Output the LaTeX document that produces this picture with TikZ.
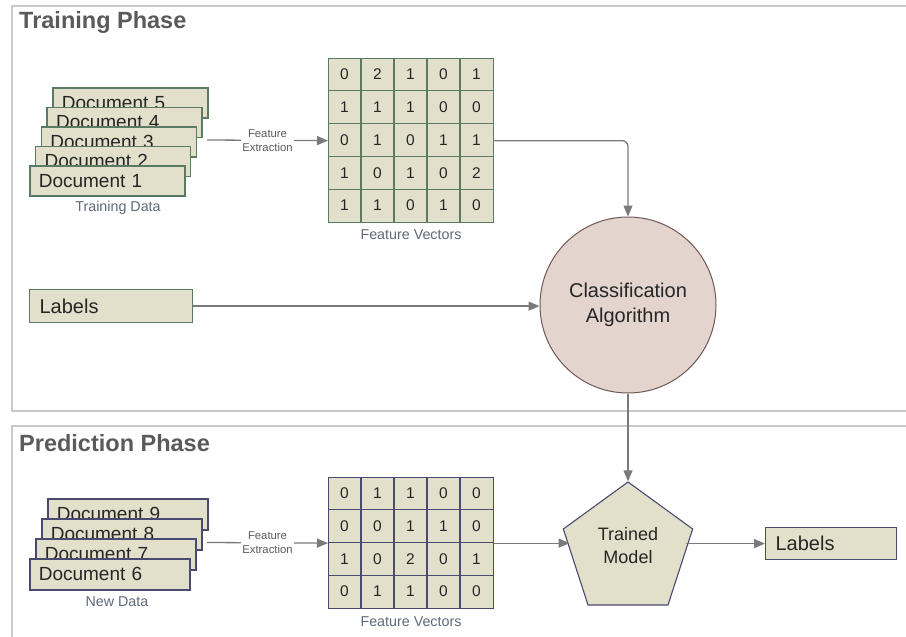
\documentclass[tikz,border=0pt]{standalone}
\usepackage{fontspec}
\setmainfont{Liberation Sans}
\usetikzlibrary{arrows.meta,shapes.geometric}

\definecolor{docfill}{HTML}{E2DFCB}
\definecolor{trainedge}{HTML}{5B7A63}
\definecolor{prededge}{HTML}{4A4A70}
\definecolor{algofill}{HTML}{E3D5CE}
\definecolor{algoedge}{HTML}{715858}
\definecolor{flowgray}{HTML}{7A7A7A}
\definecolor{framegray}{HTML}{C9C9C9}
\definecolor{titlegray}{HTML}{5A5A5A}
\definecolor{capgray}{HTML}{5E6878}
\definecolor{ink}{HTML}{262626}

\tikzset{
  docbox/.style={draw=#1, fill=docfill, line width=1.6pt, anchor=north west,
    minimum height=30pt, inner xsep=9pt, inner ysep=0pt, align=left,
    text=ink, font=\fontsize{19}{22}\selectfont},
  labelbox/.style={draw=#1, fill=docfill, line width=1.2pt, anchor=north west,
    inner xsep=10pt, inner ysep=0pt, align=left,
    text=ink, font=\fontsize{20}{24}\selectfont},
  fvgrid/.style={draw=#1, fill=docfill, line width=1.3pt, anchor=north west,
    inner sep=0pt},
  gridline/.style={draw=#1, line width=1.3pt},
  cellnum/.style={text=ink, font=\fontsize{15.5}{18}\selectfont, inner sep=0pt},
  captext/.style={text=capgray, font=\fontsize{14.3}{17}\selectfont, inner sep=0pt},
  steplabel/.style={fill=white, inner xsep=1.5pt, inner ysep=0pt, text=titlegray,
    font=\fontsize{11.3}{14}\selectfont, align=center},
  phasetitle/.style={anchor=west, text=titlegray, inner sep=0pt,
    font=\bfseries\fontsize{23.5}{28}\selectfont},
  flowarrow/.style={draw=flowgray, line width=1.3pt,
    -{Triangle[length=11pt,width=9pt]}},
  phaseframe/.style={draw=framegray, line width=1.8pt}
}

\begin{document}
\begin{tikzpicture}[x=1pt,y=-1pt]
\clip (0,0) rectangle (906,637);

% phase frames (open to the right / bottom)
\draw[phaseframe] (940,6) -- (12,6) -- (12,411) -- (940,411);
\draw[phaseframe] (940,426) -- (12,426) -- (12,660);

\node[phasetitle] (ttrain) at (19,22) {Training Phase};
\node[phasetitle] (tpred) at (19,443) {Prediction Phase};

% ---------- training phase ----------
\foreach \k in {5,4,3,2,1}
  \node[docbox=trainedge, text width=137pt] (doc\k)
    at ({29+5.75*(\k-1)},{165-19.5*(\k-1)}) {Document \k};
\node[captext] (captd) at (118,208) {Training Data};

\node[fvgrid=trainedge, minimum width=165pt, minimum height=164pt] (fvA) at (328,58) {};
\foreach \i in {1,...,4} {
  \draw[gridline=trainedge] ({328+33*\i},58) -- ++(0,164);
  \draw[gridline=trainedge] (328,{58+32.8*\i}) -- ++(165,0);
}
\foreach \row [count=\r] in {{0,2,1,0,1},{1,1,1,0,0},{0,1,0,1,1},{1,0,1,0,2},{1,1,0,1,0}}
  \foreach \v [count=\c] in \row
    \node[cellnum] (ta-\r-\c) at ({328+33*\c-16.5},{58+32.8*\r-16.4}) {\v};
\node[captext] (capfa) at (411,235) {Feature Vectors};

\coordinate (tsrc) at (207,140);
\draw[flowarrow] (tsrc) -- node[steplabel] (fxa) {Feature\\Extraction} (fvA.west);

\node[labelbox=trainedge, text width=143pt, minimum height=33pt] (lblA) at (29,289) {Labels};

\node[circle, draw=algoedge, fill=algofill, line width=1pt, minimum size=176pt,
  inner sep=0pt, align=center, text=ink, font=\fontsize{20}{25}\selectfont]
  (algo) at (628,305) {Classification\\Algorithm};

\draw[flowarrow, rounded corners=6pt] (fvA.east) -| (algo.north);
\draw[flowarrow] (lblA.east) -- (lblA.east -| algo.west);

% ---------- prediction phase ----------
\foreach \k in {9,8,7,6}
  \node[docbox=prededge, text width=142pt, minimum height=31pt] (doc\k)
    at ({29+6*(\k-6)},{558-20*(\k-6)}) {Document \k};
\node[captext] (capnd) at (117,602) {New Data};

\node[fvgrid=prededge, minimum width=165pt, minimum height=131pt] (fvB) at (328,477) {};
\foreach \i in {1,...,4}
  \draw[gridline=prededge] ({328+33*\i},477) -- ++(0,131);
\foreach \i in {1,...,3}
  \draw[gridline=prededge] (328,{477+32.75*\i}) -- ++(165,0);
\foreach \row [count=\r] in {{0,1,1,0,0},{0,0,1,1,0},{1,0,2,0,1},{0,1,1,0,0}}
  \foreach \v [count=\c] in \row
    \node[cellnum] (pa-\r-\c) at ({328+33*\c-16.5},{477+32.75*\r-16.4}) {\v};
\node[captext] (capfb) at (411,622) {Feature Vectors};

\coordinate (psrc) at (207,542.5);
\draw[flowarrow] (psrc) -- node[steplabel] (fxb) {Feature\\Extraction} (fvB.west);

\node[regular polygon, regular polygon sides=5, minimum size=136pt,
  draw=prededge, fill=docfill, line width=1.1pt, inner sep=0pt]
  (model) at (628,550) {};
\node[align=center, text=ink, inner sep=0pt, font=\fontsize{18}{23}\selectfont]
  (modeltxt) at (628,546) {Trained\\Model};

\node[labelbox=prededge, text width=111pt, minimum height=32pt] (lblB) at (765,527) {Labels};

\draw[flowarrow] (algo.south) -- (model.corner 1);
\draw[flowarrow] (fvB.east) -- (fvB.east -| model.west);
\draw[flowarrow] (lblB.west -| model.east) -- (lblB.west);
\end{tikzpicture}
\end{document}
